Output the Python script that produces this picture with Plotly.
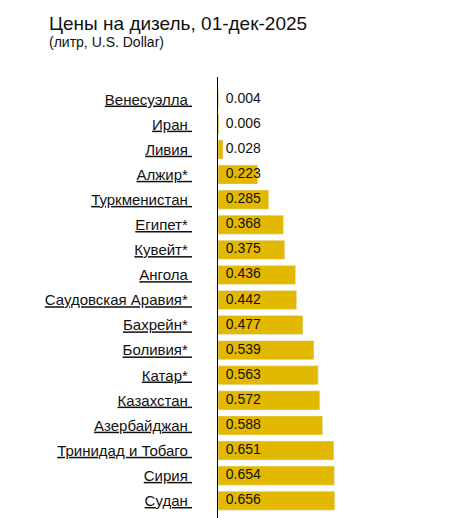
import plotly.graph_objects as go

countries = ["Венесуэлла", "Иран", "Ливия", "Алжир*", "Туркменистан", "Египет*", "Кувейт*",
             "Ангола", "Саудовская Аравия*", "Бахрейн*", "Боливия*", "Катар*", "Казахстан",
             "Азербайджан", "Тринидад и Тобаго", "Сирия", "Судан"]
prices = [0.004, 0.006, 0.028, 0.223, 0.285, 0.368, 0.375, 0.436, 0.442, 0.477,
          0.539, 0.563, 0.572, 0.588, 0.651, 0.654, 0.656]

fig = go.Figure()
fig.add_trace(go.Bar(x=prices, y=countries, orientation="h", marker_color="#E3B800",
                     width=0.76, hoverinfo="skip"))
fig.add_trace(go.Scatter(x=[0] * len(prices), y=countries, mode="text",
                         text=["  %.3f" % p for p in prices], textposition="middle right",
                         textfont=dict(size=14, color="#111", family="Arial"),
                         hoverinfo="skip"))

fig.update_layout(
    width=475, height=518, showlegend=False,
    plot_bgcolor="white", paper_bgcolor="white",
    margin=dict(l=210, r=87, t=69, b=3, autoexpand=False),
    font=dict(family="Arial", size=15, color="#111"),
)
fig.add_annotation(text="Цены на дизель, 01-дек-2025", xref="paper", yref="paper",
                   x=-0.96, y=1.148, xanchor="left", yanchor="top", showarrow=False,
                   font=dict(size=19, color="#111"))
fig.add_annotation(text="(литр, U.S. Dollar)", xref="paper", yref="paper",
                   x=-0.96, y=1.1, xanchor="left", yanchor="top", showarrow=False,
                   font=dict(size=14, color="#111"))
fig.update_xaxes(range=[0, 1.0], visible=False)
fig.update_yaxes(autorange="reversed", showline=True, linecolor="black", linewidth=1,
                 showgrid=False, ticks="", ticklabelstandoff=22, automargin=False,
                 tickvals=countries, ticktext=["<u>%s </u>" % c for c in countries])

fig.write_html("out.html")
